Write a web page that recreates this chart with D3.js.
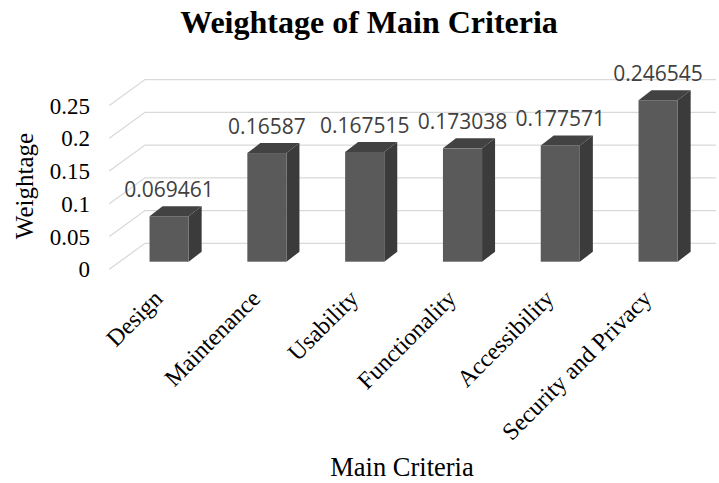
<!DOCTYPE html>
<html><head><meta charset="utf-8">
<script src="https://cdn.jsdelivr.net/npm/d3@7"></script>
<style>body{margin:0;background:#fff}svg{display:block}</style>
</head><body>
<script>
const categories = ["Design","Maintenance","Usability","Functionality","Accessibility","Security and Privacy"];
const values = [0.069461,0.16587,0.167515,0.173038,0.177571,0.246545];
const valueLabels = ["0.069461","0.16587","0.167515","0.173038","0.177571","0.246545"];
const yTicks = [0,0.05,0.1,0.15,0.2,0.25];
const yTickLabels = ["0","0.05","0.1","0.15","0.2","0.25"];

const W=719,H=483;
const svg=d3.select("body").append("svg").attr("width",W).attr("height",H);
const serif="'Liberation Serif','Times New Roman',serif";

const x=d3.scaleBand().domain(categories).range([120.2,707]).paddingInner(0.6).paddingOuter(0.3);
const yFront=d3.scaleLinear().domain([0,0.25]).range([261.7,261.7-163.75]);
const yBack=d3.scaleLinear().domain([0,0.25]).range([243.3,243.3-163.75]);
const floorDx=35.7, floorDy=26, gridLeft=109.3, gridRight=716;
const ddx=13, ddy=-10;

// gridlines
const g=svg.append("g");
yTicks.forEach((t,i)=>{
  const yb=yBack(t);
  g.append("path").attr("d",`M${gridLeft},${yb+floorDy}L${gridLeft+floorDx},${yb}L${gridRight},${yb}`)
   .attr("fill","none").attr("stroke","#d9d9d9").attr("stroke-width",1.3);
  svg.append("text").attr("x",90).attr("y",yb+floorDy).attr("dy","0.35em")
   .attr("text-anchor","end").attr("font-family",serif).attr("font-size",23).attr("fill","#000")
   .text(yTickLabels[i]);
});

// bars
const bars=svg.append("g");
categories.forEach((c,i)=>{
  const x0=x(c), x1=x0+x.bandwidth(), yt=yFront(values[i]), yb=yFront(0);
  bars.append("path").attr("d",`M${x1},${yt}L${x1+ddx},${yt+ddy}L${x1+ddx},${yb+ddy}L${x1},${yb}Z`).attr("fill","#3b3b3b");
  bars.append("path").attr("d",`M${x0},${yt}L${x0+ddx},${yt+ddy}L${x1+ddx},${yt+ddy}L${x1},${yt}Z`).attr("fill","#424242");
  bars.append("rect").attr("x",x0).attr("y",yt).attr("width",x1-x0).attr("height",yb-yt).attr("fill","#5a5a5a");
  svg.append("text").attr("x",(x0+x1)/2).attr("y",yt+ddy-9).attr("text-anchor","middle")
   .attr("font-family","'Open Sans',sans-serif").attr("font-size",21).attr("fill","#404040").text(valueLabels[i]);
  const lx=(x0+x1)/2-5, ly=300;
  svg.append("text").attr("transform",`translate(${lx},${ly}) rotate(-45)`).attr("text-anchor","end")
   .attr("font-family",serif).attr("font-size",24).attr("fill","#000").text(c);
});

svg.append("text").attr("x",369).attr("y",33).attr("text-anchor","middle").attr("font-family",serif)
  .attr("font-weight","bold").attr("font-size",32).text("Weightage of Main Criteria");
svg.append("text").attr("x",402).attr("y",476).attr("text-anchor","middle").attr("font-family",serif)
  .attr("font-size",26.5).text("Main Criteria");
svg.append("text").attr("transform","translate(33,186) rotate(-90)").attr("text-anchor","middle").attr("font-family",serif)
  .attr("font-size",25).text("Weightage");
</script>
</body></html>
